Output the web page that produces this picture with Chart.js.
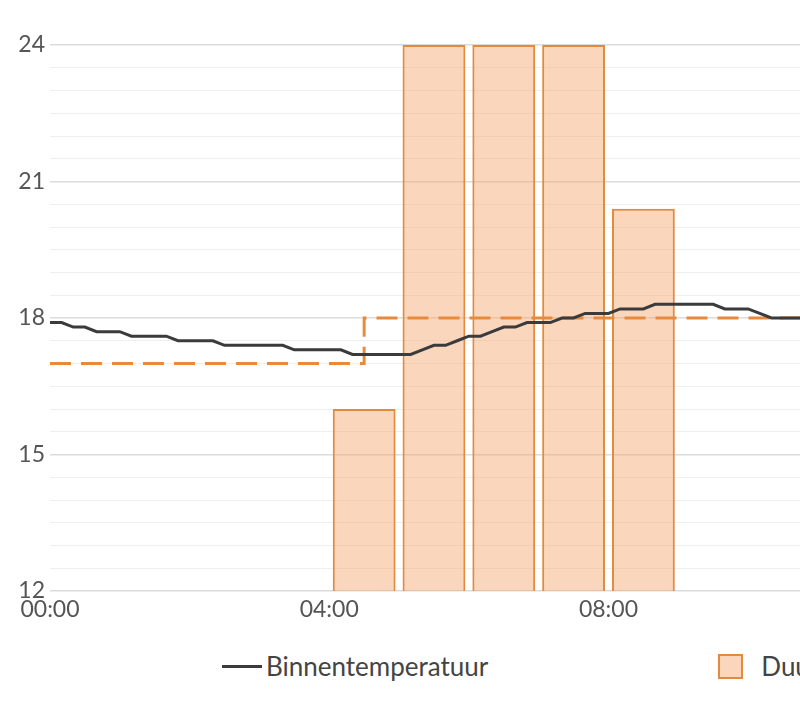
<!DOCTYPE html>
<html>
<head>
<meta charset="utf-8">
<script src="https://cdn.jsdelivr.net/npm/chart.js@4.4.1/dist/chart.umd.min.js"></script>
<style>
  html, body { margin: 0; padding: 0; background: #fff; overflow: hidden; }
  #wrap { position: relative; width: 1760px; height: 712px; }
  #c { position: absolute; left: 0; top: 0; }
  #legend { position: absolute; left: 222px; top: 648px; height: 36px; display: flex; align-items: center; gap: 230px;
            font-family: Lato, "Open Sans", sans-serif; font-size: 26px; color: #444; white-space: nowrap; }
  .item { display: flex; align-items: center; }
  .ico-line { width: 40px; height: 3px; margin-right: 4px; }
  .ico-box { width: 21px; height: 21px; border: 2px solid; margin-right: 18px; }
  .ico-dash { width: 40px; height: 0; border-top: 3px dashed; margin-right: 4px; }
</style>
</head>
<body>
<div id="wrap">
  <canvas id="c" width="1760" height="640"></canvas>
  <div id="legend"></div>
</div>
<script>
// Binnentemperatuur, one reading every 10 minutes starting at 00:00
const tempStepMinutes = 10;
const tempValues = [
  17.9, 17.9, 17.8, 17.8, 17.7, 17.7, 17.7, 17.6, 17.6, 17.6,
  17.6, 17.5, 17.5, 17.5, 17.5, 17.4, 17.4, 17.4, 17.4, 17.4,
  17.4, 17.3, 17.3, 17.3, 17.3, 17.3, 17.2, 17.2, 17.2, 17.2,
  17.2, 17.2, 17.3, 17.4, 17.4, 17.5, 17.6, 17.6, 17.7, 17.8,
  17.8, 17.9, 17.9, 17.9, 18.0, 18.0, 18.1, 18.1, 18.1, 18.2,
  18.2, 18.2, 18.3, 18.3, 18.3, 18.3, 18.3, 18.3, 18.2, 18.2,
  18.2, 18.1, 18.0, 18.0, 18.0, 18.0, 18.0
];
// Ingestelde temperatuur (setpoint), hour of change and value
const setpointHours = [0, 4.5, 11];
const setpointValues = [17, 18, 18];
// Duur verwarming (minutes heating per hour), bar centre hour
const heatHours = [4.5, 5.5, 6.5, 7.5, 8.5];
const heatMinutes = [20, 60, 60, 60, 42];
// axis ticks
const xTickHours = [0, 4, 8, 12, 16, 20, 24];
const yLabelEvery = 3;

const labels = {
  temp: 'Binnentemperatuur',
  heat: 'Duur verwarming',
  set: 'Ingestelde temperatuur'
};

const tempData = tempValues.map((v, i) => ({ x: i * tempStepMinutes / 60, y: v }));
const setData = setpointHours.map((h, i) => ({ x: h, y: setpointValues[i] }));
const heatData = heatHours.map((h, i) => ({ x: h, y: heatMinutes[i] }));

const pad2 = n => String(n).padStart(2, '0');
const fontFam = 'Lato, "Open Sans", sans-serif';

const htmlLegend = {
  id: 'htmlLegend',
  afterUpdate(chart) {
    const el = document.getElementById('legend');
    el.innerHTML = '';
    chart.data.datasets.forEach(ds => {
      const item = document.createElement('div');
      item.className = 'item';
      const ico = document.createElement('span');
      if (ds.type === 'bar') {
        ico.className = 'ico-box';
        ico.style.borderColor = ds.borderColor;
        ico.style.background = ds.backgroundColor;
      } else if (ds.borderDash) {
        ico.className = 'ico-dash';
        ico.style.borderColor = ds.borderColor;
      } else {
        ico.className = 'ico-line';
        ico.style.background = ds.borderColor;
      }
      const txt = document.createElement('span');
      txt.textContent = ds.label;
      item.appendChild(ico);
      item.appendChild(txt);
      el.appendChild(item);
    });
  }
};

new Chart(document.getElementById('c'), {
  data: {
    datasets: [
      {
        type: 'line', label: labels.temp, data: tempData,
        borderColor: '#3b3b3b', borderWidth: 3, pointRadius: 0, tension: 0,
        yAxisID: 'y', order: 0
      },
      {
        type: 'bar', label: labels.heat, data: heatData,
        backgroundColor: 'rgba(242,160,95,0.42)', borderColor: '#e38a3e', borderWidth: 2,
        barPercentage: 0.9, categoryPercentage: 1.0,
        yAxisID: 'y1', order: 2
      },
      {
        type: 'line', label: labels.set, data: setData,
        borderColor: '#e88a3c', borderWidth: 3, borderDash: [21, 10], stepped: true,
        pointRadius: 0, yAxisID: 'y', order: 1
      }
    ]
  },
  options: {
    responsive: false,
    animation: false,
    layout: { padding: { left: 0, right: 28, top: 45, bottom: 0 } },
    plugins: { legend: { display: false }, tooltip: { enabled: false } },
    scales: {
      x: {
        type: 'linear', min: 0, max: 24, offset: false,
        afterBuildTicks: s => { s.ticks = xTickHours.map(v => ({ value: v })); },
        ticks: {
          callback: v => pad2(v) + ':00',
          color: '#555', font: { family: fontFam, size: 23 }, padding: 5, maxRotation: 0, autoSkip: false
        },
        grid: { display: false, drawTicks: false, offset: false },
        border: { display: false },
        afterFit: s => { s.height = 49; }
      },
      y: {
        min: 12, max: 24,
        afterFit: s => { s.width = 50; },
        ticks: {
          stepSize: 0.5, autoSkip: false, padding: 5,
          color: '#555', font: { family: fontFam, size: 23 },
          callback: v => (v % yLabelEvery === 0 ? String(v) : '')
        },
        grid: {
          drawTicks: false,
          color: ctx => (ctx.tick && ctx.tick.value % yLabelEvery === 0 ? '#dcdcdc' : '#efefef'),
          lineWidth: ctx => (ctx.tick && ctx.tick.value % yLabelEvery === 0 ? 1.5 : 1)
        },
        border: { display: false }
      },
      y1: { display: false, min: 0, max: 60 }
    }
  },
  plugins: [htmlLegend]
});
</script>
</body>
</html>
